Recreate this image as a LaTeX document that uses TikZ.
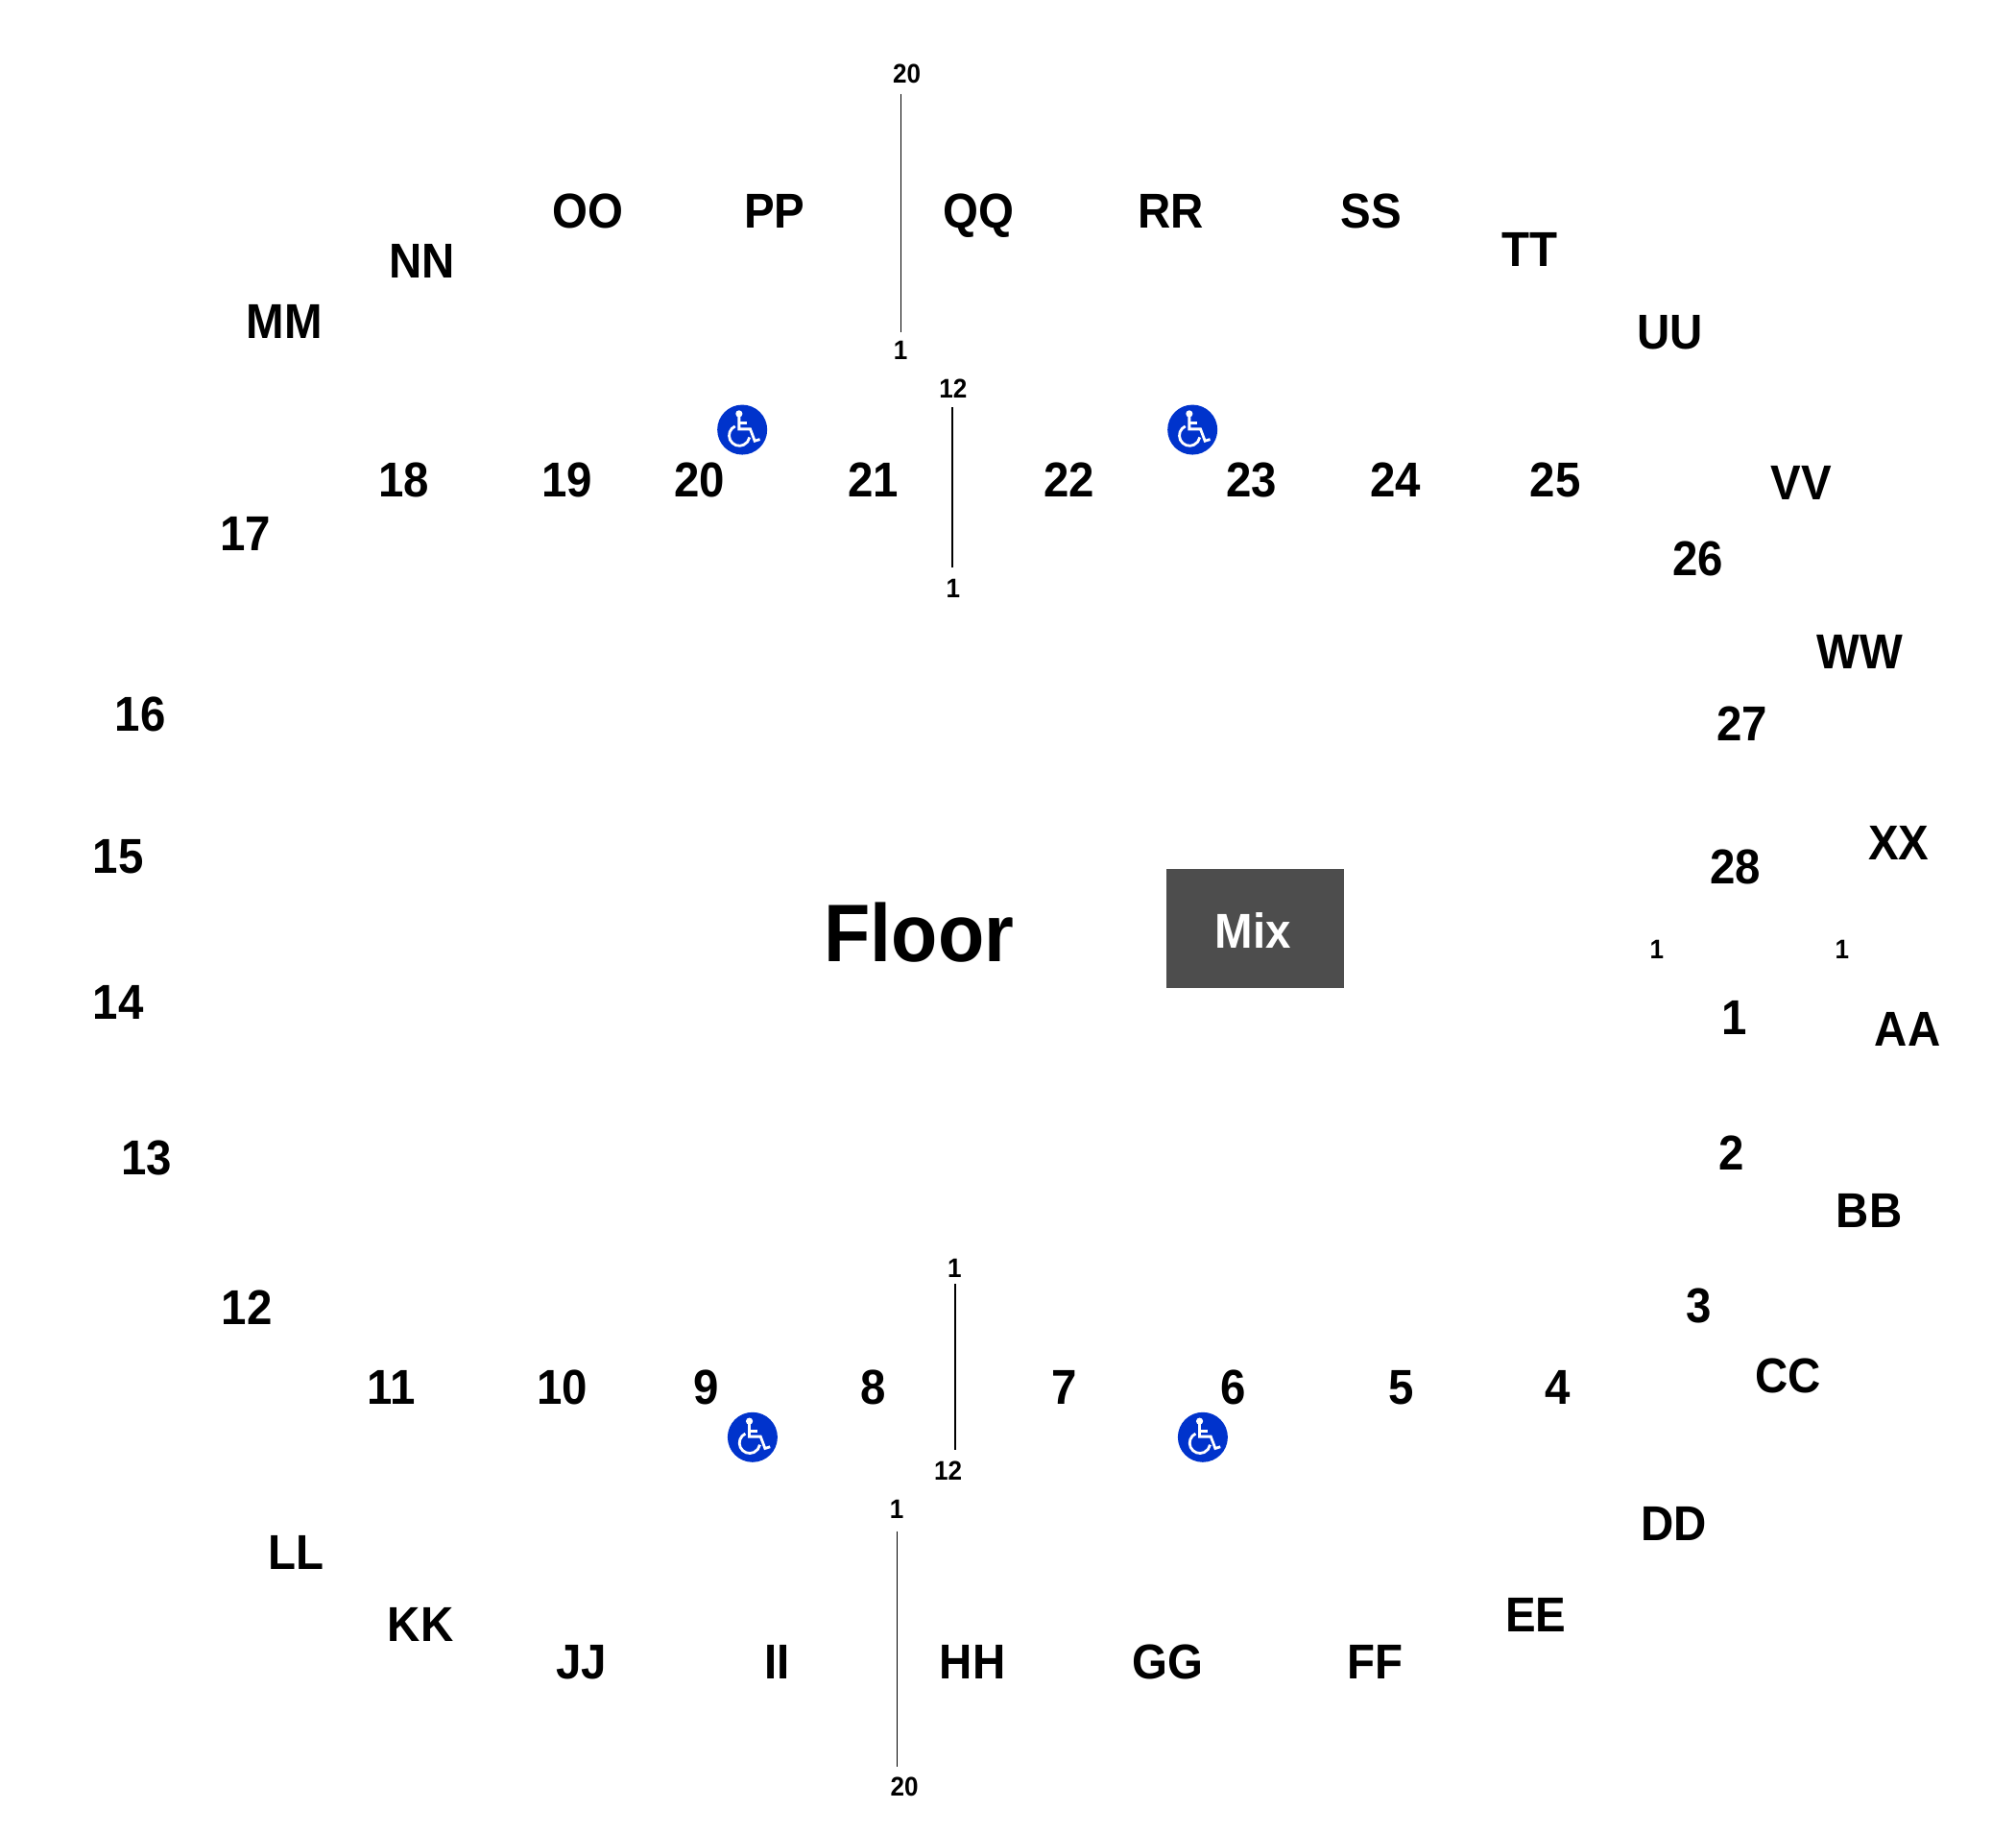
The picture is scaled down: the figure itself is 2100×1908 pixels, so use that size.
\documentclass[tikz,border=0pt]{standalone}
\usepackage{fontspec}
\setmainfont{Liberation Sans}[FakeStretch=0.93]
\definecolor{badge}{HTML}{0033CC}
\definecolor{mixfill}{HTML}{4D4D4D}
\tikzset{
  x=1.34pt,y=-1.34pt,
  seatlabel/.style={inner sep=0pt,font=\bfseries\fontsize{51}{51}\selectfont,text height=35.1pt,text depth=0pt},
  smalllabel/.style={inner sep=0pt,font=\bfseries\fontsize{28}{28}\selectfont,text height=19.3pt,text depth=0pt},
  floorlabel/.style={inner sep=0pt,font=\bfseries\fontsize{85}{85}\selectfont,text height=58.5pt,text depth=0pt},
  mixlabel/.style={inner sep=0pt,text=white,font=\bfseries\fontsize{51}{51}\selectfont,text height=35.1pt,text depth=0pt},
  mixbox/.style={fill=mixfill,draw=none,minimum width=185pt,minimum height=123.7pt,inner sep=0pt},
  wheelbadge/.style={circle,fill=badge,draw=none,minimum size=52pt,inner sep=0pt},
  glyph/.style={draw=white,line width=2.8pt},
  aisle/.style={draw=black,line width=1.3pt}
}
\newcommand{\wheelglyph}[1]{%
  \begin{scope}[shift={(#1)},x=.3333pt,y=-.3333pt]
    \fill[white] (-10,-50) circle[radius=3.6pt];
    \draw[glyph] (-10,-42) -- (-10,-2) -- (25,-2) -- (39,35) -- (55,30);
    \draw[glyph] (-10,-20) -- (14,-20);
    \draw[glyph] (-22.5,-11) arc[start angle=115,end angle=350,radius=10.7pt];
  \end{scope}}
\begin{document}
\begin{tikzpicture}
\useasboundingbox (0pt,0pt) rectangle (2100pt,-1908pt);
\foreach \t/\n/\px/\py in {MM/a1/221/250,NN/a2/328/203,OO/a3/457/164,PP/a4/602/164,QQ/a5/761/164,RR/a6/910/164,SS/a7/1066/164,TT/a8/1189/194,UU/a9/1298/258,VV/a10/1400/375,WW/a11/1446/507,XX/a12/1476/655,AA/a13/1483/800,BB/a14/1453/941,CC/a15/1390/1069,DD/a16/1301/1184,EE/a17/1194/1255,FF/a18/1069/1292,GG/a19/908/1292,HH/a20/756/1292,II/a21/604/1292,JJ/a22/452/1292,KK/a23/327/1263,LL/a24/230/1207,
1/b1/1348/791,2/b2/1346/896,3/b3/1321/1015,4/b4/1211/1078,5/b5/1089/1078,6/b6/959/1078,7/b7/827/1078,8/b8/679/1078,9/b9/549/1078,10/b10/437/1078,11/b11/304/1078,12/b12/192/1016,13/b13/114/900,14/b14/92/779,15/b15/92/666,16/b16/109/555,17/b17/191/415,18/b18/314/373,19/b19/441/373,20/b20/544/373,21/b21/679/373,22/b22/831/373,23/b23/973/373,24/b24/1085/373,25/b25/1209/373,26/b26/1320/434,27/b27/1354/563,28/b28/1349/674}
  \node[seatlabel] (\n) at (\px,\py) {\t};
\node[smalllabel] (s1) at (705,57) {20};
\node[smalllabel] (s2) at (700,272) {1};
\node[smalllabel] (s3) at (741,302) {12};
\node[smalllabel] (s4) at (741,457) {1};
\node[smalllabel] (s5) at (1288,738) {1};
\node[smalllabel] (s6) at (1432,738) {1};
\node[smalllabel] (s7) at (742,986) {1};
\node[smalllabel] (s8) at (737,1143) {12};
\node[smalllabel] (s9) at (697,1173) {1};
\node[smalllabel] (s10) at (703,1389) {20};
\coordinate (l1a) at (700.2,73); \coordinate (l1b) at (700.2,258);
\coordinate (l2a) at (740.3,316.5); \coordinate (l2b) at (740.3,441);
\coordinate (l3a) at (742.5,998); \coordinate (l3b) at (742.5,1127);
\coordinate (l4a) at (697.5,1190); \coordinate (l4b) at (697.5,1373);
\draw[aisle] (l1a) -- (l1b);
\draw[aisle] (l2a) -- (l2b);
\draw[aisle] (l3a) -- (l3b);
\draw[aisle] (l4a) -- (l4b);
\node[floorlabel] (floor) at (714.4,725.2) {Floor};
\node[mixbox] (mixb) at (975.7,721.6) {};
\node[mixlabel] (mix) at (974.1,723.6) {Mix};
\node[wheelbadge] (w1) at (577,334) {}; \wheelglyph{w1}
\node[wheelbadge] (w2) at (927,334) {}; \wheelglyph{w2}
\node[wheelbadge] (w3) at (585,1117) {}; \wheelglyph{w3}
\node[wheelbadge] (w4) at (935,1117) {}; \wheelglyph{w4}
\end{tikzpicture}
\end{document}
